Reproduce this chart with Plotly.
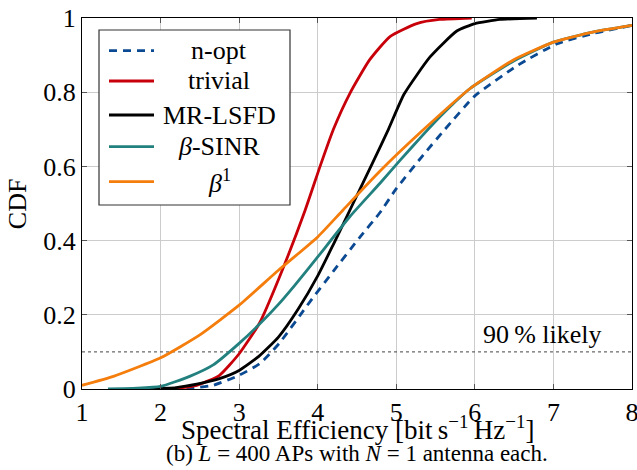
import plotly.graph_objects as go

# ---- data ----
nopt_x = [2.15, 2.4, 2.67, 3.0, 3.26, 3.51, 3.9, 4.2, 4.54, 4.79, 5.0, 5.34, 5.62, 6.0, 6.55, 7.04, 7.5, 8.0]
nopt_y = [0.0, 0.003, 0.01, 0.037, 0.068, 0.123, 0.235, 0.318, 0.41, 0.475, 0.54, 0.63, 0.70, 0.79, 0.873, 0.93, 0.958, 0.98]

triv_x = [2.0, 2.2, 2.46, 2.75, 3.0, 3.26, 3.51, 3.84, 4.03, 4.2, 4.41, 4.66, 4.92, 5.26, 5.55, 5.96]
triv_y = [0.0, 0.002, 0.01, 0.037, 0.095, 0.178, 0.30, 0.482, 0.60, 0.70, 0.797, 0.887, 0.95, 0.985, 0.996, 1.0]

mr_x = [1.8, 2.2, 2.46, 2.75, 3.0, 3.25, 3.5, 3.75, 4.0, 4.2, 4.45, 4.7, 4.9, 5.1, 5.43, 5.77, 6.0, 6.32, 6.79]
mr_y = [0.0, 0.004, 0.013, 0.028, 0.05, 0.088, 0.14, 0.215, 0.305, 0.39, 0.50, 0.61, 0.70, 0.795, 0.895, 0.965, 0.985, 0.996, 1.0]

sinr_x = [1.33, 1.7, 2.0, 2.37, 2.67, 3.0, 3.26, 3.5, 3.71, 4.0, 4.41, 4.79, 5.05, 5.34, 5.6, 5.94, 6.5, 7.0, 7.5, 8.0]
sinr_y = [0.0, 0.002, 0.007, 0.034, 0.065, 0.123, 0.175, 0.228, 0.28, 0.356, 0.465, 0.554, 0.617, 0.685, 0.743, 0.81, 0.885, 0.935, 0.962, 0.98]

b1_x = [1.0, 1.4, 2.0, 2.5, 3.0, 3.5, 4.0, 4.32, 4.79, 5.34, 5.94, 6.49, 7.0, 7.5, 8.0]
b1_y = [0.01, 0.034, 0.084, 0.146, 0.226, 0.32, 0.41, 0.482, 0.587, 0.698, 0.81, 0.887, 0.935, 0.962, 0.98]

ref_x = [1, 8]
ref_y = [0.1, 0.1]

legend_labels = ["n-opt", "trivial", "MR-LSFD", "<i>β</i>-SINR", "<i>β</i><sup>1</sup>"]

y_tickvals = [0, 0.2, 0.4, 0.6, 0.8, 1]
y_ticktext = ["0", "0.2", "0.4", "0.6", "0.8", "1"]
x_tickvals = [1, 2, 3, 4, 5, 6, 7, 8]

FONT = "Liberation Serif"

# plot-area geometry (pixels)
W, H = 637, 470
ML, MR, MT, MB = 82, 5, 18, 81
PW, PH = W - ML - MR, H - MT - MB


def px2paper(px, py):
    return (px - ML) / PW, (H - MB - py) / PH


fig = go.Figure()

fig.add_trace(go.Scatter(x=ref_x, y=ref_y, mode="lines", showlegend=False,
                         line=dict(color="#444444", width=1, dash="3px,3px"), hoverinfo="skip"))

colors = ["#0b4a92", "#c8000a", "#000000", "#22807f", "#f47d0c"]
dashes = ["8px,6px", "solid", "solid", "solid", "solid"]
datasets = [(nopt_x, nopt_y), (triv_x, triv_y), (mr_x, mr_y), (sinr_x, sinr_y), (b1_x, b1_y)]

for (xs, ys), name, col, dash in zip(datasets, legend_labels, colors, dashes):
    fig.add_trace(go.Scatter(x=xs, y=ys, mode="lines", name=name, showlegend=False,
                             line=dict(color=col, width=2.8, dash=dash, shape="spline", smoothing=0.5)))

# legend drawn as box + samples + centred labels (like the reference)
bx0, by0 = px2paper(99, 30)
bx1, by1 = px2paper(290, 205)
fig.add_shape(type="rect", xref="paper", yref="paper", x0=bx0, y0=by1, x1=bx1, y1=by0,
              line=dict(color="#333333", width=1.2), fillcolor="white", layer="above")
entry_py = [50.7, 81, 115, 146.7, 181.7]
for py, name, col, dash in zip(entry_py, legend_labels, colors, dashes):
    lx0, ly = px2paper(109, py)
    lx1, _ = px2paper(154, py)
    fig.add_shape(type="line", xref="paper", yref="paper", x0=lx0, x1=lx1, y0=ly, y1=ly,
                  line=dict(color=col, width=2.8, dash=dash), layer="above")
    tx, _ = px2paper(219, py)
    fig.add_annotation(x=tx, y=ly, xref="paper", yref="paper", text=name, showarrow=False,
                       xanchor="center", yanchor="middle",
                       font=dict(family=FONT, size=26, color="black"))

fig.add_annotation(x=6.08, y=0.1, xref="x", yref="y", text="90" + "\u2009" + "% likely",
                   showarrow=False, xanchor="left", yanchor="bottom", yshift=1,
                   font=dict(family=FONT, size=26, color="black"))

fig.add_annotation(x=0.5, y=-0.104, xref="paper", yref="paper",
                   text="Spectral Efficiency [bit" + "\u2009" + "s<sup>−1</sup>" + "\u2009" + "Hz<sup>−1</sup>]",
                   showarrow=False, xanchor="center", yanchor="middle",
                   font=dict(family=FONT, size=27, color="black"))
fig.add_annotation(x=0.5, y=-0.175, xref="paper", yref="paper",
                   text="(b) <i>L</i> = 400 APs with <i>N</i> = 1 antenna each.",
                   showarrow=False, xanchor="center", yanchor="middle",
                   font=dict(family=FONT, size=23, color="black"))
fig.add_annotation(x=-0.117, y=0.5, xref="paper", yref="paper", text="CDF", textangle=-90,
                   showarrow=False, xanchor="center", yanchor="middle",
                   font=dict(family=FONT, size=26, color="black"))

axis_common = dict(showline=True, linecolor="black", linewidth=1.2, mirror="ticks",
                   ticks="inside", ticklen=5, tickcolor="#555555", automargin=False,
                   showgrid=True, gridcolor="#cccccc", gridwidth=1, zeroline=False,
                   ticklabeloverflow="allow",
                   tickfont=dict(family=FONT, size=26, color="black"))

fig.update_layout(
    width=W, height=H,
    margin=dict(l=ML, r=MR, t=MT, b=MB),
    paper_bgcolor="white", plot_bgcolor="white",
    font=dict(family=FONT, size=25, color="black"),
    xaxis=dict(range=[1, 8], tickvals=x_tickvals, **axis_common),
    yaxis=dict(range=[0, 1], tickvals=y_tickvals, ticktext=y_ticktext, **axis_common),
    showlegend=False,
)

fig.write_html("out.html", config={"displayModeBar": False},
               post_script="document.body.style.margin='0';document.body.style.overflow='hidden';")
